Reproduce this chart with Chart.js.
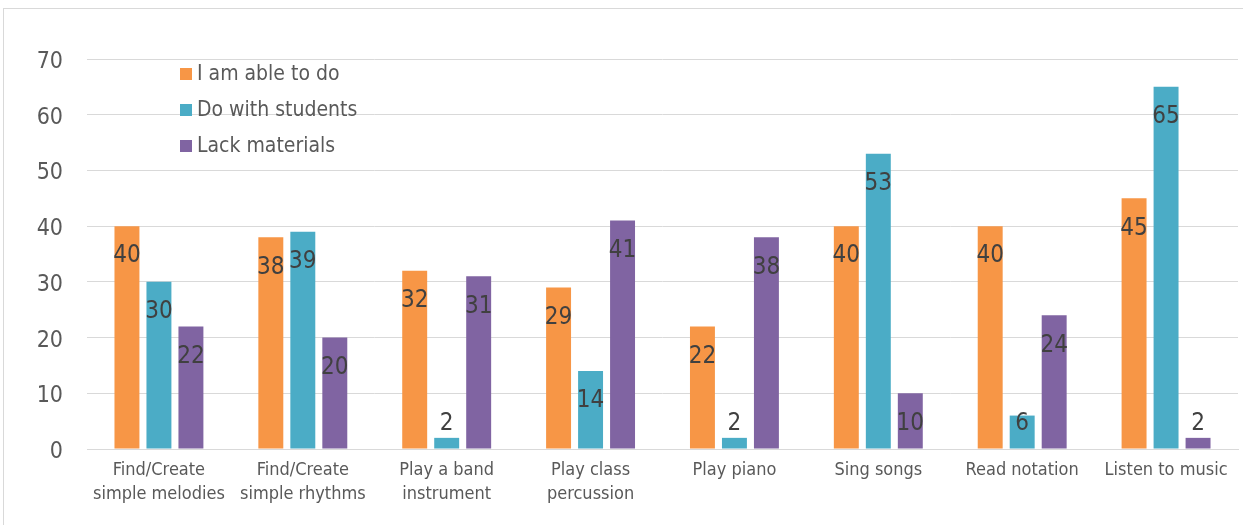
<!DOCTYPE html>
<html>
<head>
<meta charset="utf-8">
<script src="https://cdn.jsdelivr.net/npm/chart.js@4/dist/chart.umd.min.js"></script>
<style>
  html, body { margin: 0; padding: 0; background: #ffffff; overflow: hidden; }
  #wrap { position: relative; width: 1243px; height: 525px; }
  #frame { position: absolute; left: 3px; top: 8px; width: 1260px; height: 540px;
           border: 1px solid #d9d9d9; box-sizing: border-box; pointer-events: none; }
  canvas { position: absolute; left: 0; top: 0; }
</style>
</head>
<body>
<div id="wrap">
  <canvas id="chart" width="1243" height="525"></canvas>
  <div id="frame"></div>
</div>
<script>
// Survey categories (multi-line axis labels)
const categories = [
  ["Find/Create", "simple melodies"],
  ["Find/Create", "simple rhythms"],
  ["Play a band", "instrument"],
  ["Play class", "percussion"],
  "Play piano",
  "Sing songs",
  "Read notation",
  "Listen to music"
];

const seriesNames = ["I am able to do", "Do with students", "Lack materials"];
const ableToDo      = [40, 38, 32, 29, 22, 40, 40, 45];
const withStudents  = [30, 39, 2, 14, 2, 53, 6, 65];
const lackMaterials = [22, 20, 31, 41, 38, 10, 24, 2];

const yTicks = [0, 10, 20, 30, 40, 50, 60, 70];

const colors = ["#F79646", "#4BACC6", "#8064A2"];
const FONT = "'DejaVu Sans Condensed', 'DejaVu Sans', Tahoma, sans-serif";

// Value labels near the top of each bar, kept above the baseline for short bars
const valueLabels = {
  id: 'valueLabels',
  afterDatasetsDraw(chart) {
    const ctx = chart.ctx;
    const base = chart.scales.y.getPixelForValue(0);
    ctx.save();
    ctx.font = "24px " + FONT;
    ctx.fillStyle = "#404040";
    ctx.textAlign = "center";
    ctx.textBaseline = "middle";
    chart.data.datasets.forEach((ds, i) => {
      chart.getDatasetMeta(i).data.forEach((bar, j) => {
        const y = Math.min(bar.y + 30, base - 25);
        ctx.fillText(String(ds.data[j]), bar.x, y);
      });
    });
    ctx.restore();
  }
};

// Vertical legend placed inside the plot area
const insideLegend = {
  id: 'insideLegend',
  afterDraw(chart) {
    const ctx = chart.ctx;
    ctx.save();
    ctx.font = "21px " + FONT;
    ctx.textBaseline = "middle";
    ctx.textAlign = "left";
    chart.data.datasets.forEach((ds, i) => {
      const cy = 74 + i * 36;
      ctx.fillStyle = ds.backgroundColor;
      ctx.fillRect(180, cy - 6, 12, 12);
      ctx.fillStyle = "#595959";
      ctx.fillText(ds.label, 197, cy + 1);
    });
    ctx.restore();
  }
};

new Chart(document.getElementById('chart'), {
  type: 'bar',
  data: {
    labels: categories,
    datasets: [
      { label: seriesNames[0], data: ableToDo, backgroundColor: colors[0] },
      { label: seriesNames[1], data: withStudents, backgroundColor: colors[1] },
      { label: seriesNames[2], data: lackMaterials, backgroundColor: colors[2] }
    ]
  },
  options: {
    responsive: false,
    animation: false,
    devicePixelRatio: 1,
    categoryPercentage: 0.667,
    barPercentage: 0.78,
    layout: { padding: { left: 0, top: 59, right: 5, bottom: 0 } },
    plugins: {
      legend: { display: false },
      tooltip: { enabled: false }
    },
    scales: {
      x: {
        grid: { display: false, drawTicks: false },
        border: { display: true, color: "#d9d9d9", width: 1 },
        ticks: {
          color: "#595959",
          font: { family: FONT, size: 18, lineHeight: 1.3 },
          padding: 10,
          maxRotation: 0,
          autoSkip: false
        },
        afterFit(scale) { scale.height = 76; }
      },
      y: {
        min: 0,
        max: 70,
        afterBuildTicks(scale) { scale.ticks = yTicks.map(v => ({ value: v })); },
        grid: { color: "#d9d9d9", lineWidth: 1, drawTicks: false },
        border: { display: false },
        ticks: {
          color: "#595959",
          font: { family: FONT, size: 23 },
          padding: 24,
          labelOffset: 3
        },
        afterFit(scale) { scale.width = 87; }
      }
    }
  },
  plugins: [valueLabels, insideLegend]
});
</script>
</body>
</html>
